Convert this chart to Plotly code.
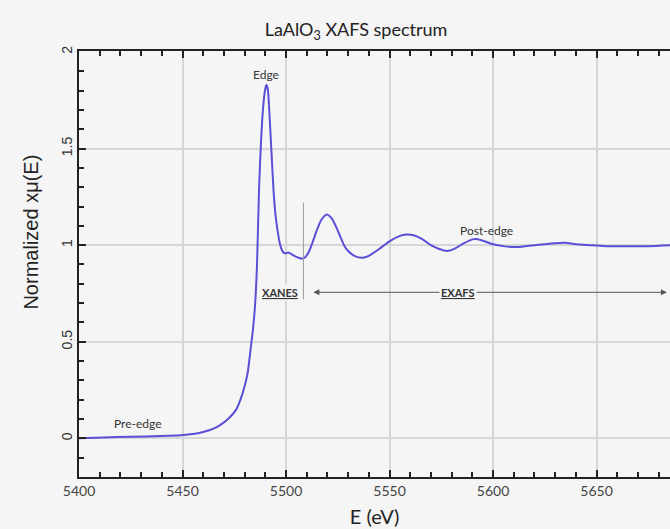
import plotly.graph_objects as go

# Data
energy_ev = [5400, 5412, 5425, 5440, 5449, 5455, 5460, 5465, 5468, 5472, 5476, 5478, 5480, 5481.5,
             5483, 5484, 5485, 5486, 5487, 5488, 5489, 5490, 5490.6, 5491.3, 5492, 5493, 5494, 5495,
             5496, 5497, 5498, 5499, 5500, 5501, 5502, 5504, 5506, 5507.5, 5509, 5511, 5513, 5515,
             5517, 5519, 5520, 5522, 5524, 5526, 5528, 5530, 5533, 5537, 5540, 5545, 5550, 5555,
             5558, 5562, 5566, 5570, 5574, 5578, 5582, 5586, 5590, 5592, 5596, 5600, 5605, 5612,
             5620, 5630, 5635, 5640, 5648, 5655, 5665, 5675, 5686]
norm_mu = [0.0, 0.005, 0.008, 0.012, 0.016, 0.022, 0.033, 0.05, 0.067, 0.1, 0.15, 0.2, 0.27, 0.34,
           0.47, 0.56, 0.68, 0.9, 1.3, 1.55, 1.72, 1.81, 1.83, 1.8, 1.68, 1.48, 1.28, 1.15,
           1.07, 1.01, 0.975, 0.96, 0.958, 0.962, 0.958, 0.945, 0.935, 0.93, 0.935, 0.965, 1.02, 1.08,
           1.13, 1.155, 1.158, 1.14, 1.1, 1.05, 1.0, 0.97, 0.945, 0.935, 0.945, 0.98, 1.02, 1.048,
           1.055, 1.05, 1.03, 1.0, 0.98, 0.97, 0.985, 1.01, 1.03, 1.032, 1.02, 1.005, 0.995, 0.99,
           1.0, 1.01, 1.012, 1.005, 1.0, 0.995, 0.995, 0.995, 1.0]

x_tick_start, x_tick_step, x_minor_step = 5400, 50, 10
y_tick_start, y_tick_step, y_minor_step = 0, 0.5, 0.1

xanes_exafs_boundary = 5508.4
arrow_level = 0.756

BG = "#f5f5f5"
GRID = "#d6d6d6"
TXT = "#333333"
SANS = "Lato, 'Open Sans', sans-serif"
ARIAL = "'Liberation Sans', Arial, sans-serif"

fig = go.Figure()
fig.add_trace(go.Scatter(x=energy_ev, y=norm_mu, mode="lines",
                         line=dict(color="#5a4fd6", width=2, shape="spline", smoothing=0.6),
                         hoverinfo="x+y", showlegend=False))

fig.update_layout(
    width=670, height=529,
    margin=dict(l=79, r=0, t=51, b=52),
    paper_bgcolor=BG, plot_bgcolor=BG,
    title=dict(text="LaAlO<sub>3</sub> XAFS spectrum", x=356 / 670, xanchor="center",
               y=1 - 30 / 529, yanchor="middle",
               font=dict(family=SANS, size=18, color="#222222")),
    xaxis=dict(range=[5400, 5685.5], tickmode="linear", tick0=x_tick_start, dtick=x_tick_step,
               showgrid=True, gridcolor=GRID, gridwidth=1.5,
               zeroline=False, showline=True, linecolor="#222222", linewidth=1.5, mirror="ticks",
               ticks="inside", ticklen=7, tickwidth=1.5, tickcolor="#222222",
               minor=dict(tick0=x_tick_start, dtick=x_minor_step, ticks="inside", ticklen=5,
                          tickwidth=1.5, tickcolor="#222222", showgrid=False),
               tickfont=dict(family=SANS, size=14, color="#444444"),
               title=dict(text="E (eV)", font=dict(family=SANS, size=20, color="#222222"), standoff=12)),
    yaxis=dict(range=[-0.2, 2.005], tickmode="linear", tick0=y_tick_start, dtick=y_tick_step,
               tickangle=-90, showgrid=True, gridcolor=GRID, gridwidth=1.5,
               zeroline=False, showline=True, linecolor="#222222", linewidth=1.5,
               ticks="inside", ticklen=7, tickwidth=1.5, tickcolor="#222222",
               minor=dict(tick0=y_tick_start, dtick=y_minor_step, ticks="inside", ticklen=5,
                          tickwidth=1.5, tickcolor="#222222", showgrid=False),
               tickfont=dict(family=ARIAL, size=14, color="#333333")),
)

# y-axis title placed as an annotation (it sits above the centre in the reference)
fig.add_annotation(xref="paper", yref="paper", x=-48 / 591, y=(478 - 233) / 427,
                   text="Normalized x\u03bc(E)", textangle=-90, showarrow=False,
                   xanchor="center", yanchor="middle",
                   font=dict(family=ARIAL, size=20, color="#222222"))

# XANES / EXAFS boundary line
fig.add_shape(type="line", xref="x", yref="y", x0=xanes_exafs_boundary, x1=xanes_exafs_boundary,
              y0=0.72, y1=1.22, line=dict(color="#9a9a9a", width=1))

# double-headed EXAFS arrow
fig.add_annotation(xref="x", yref="y", axref="x", ayref="y", x=5684, y=arrow_level,
                   ax=5512.5, ay=arrow_level, text="", showarrow=True, arrowside="end+start",
                   arrowhead=2, startarrowhead=2, arrowsize=1.2, startarrowsize=1.2,
                   arrowwidth=1, arrowcolor="#555555")

labels = [
    ("Edge", 5490.3, 1.885, False),
    ("Post-edge", 5597, 1.075, False),
    ("Pre-edge", 5428.5, 0.075, False),
    ("XANES", 5497, arrow_level, True),
    ("EXAFS", 5583, arrow_level, True),
]
for txt, xv, yv, bold in labels:
    t = f"<b><u>{txt}</u></b>" if bold else txt
    fig.add_annotation(xref="x", yref="y", x=xv, y=yv, text=t, showarrow=False,
                       xanchor="center", yanchor="middle",
                       bgcolor=BG if bold else "rgba(0,0,0,0)", borderpad=1,
                       font=dict(family=SANS, size=11 if bold else 12, color=TXT))

fig.write_html("out.html")
